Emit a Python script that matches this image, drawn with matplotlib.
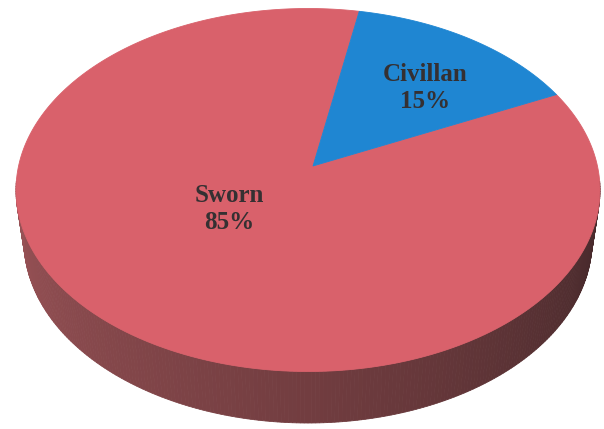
import numpy as np
import matplotlib
matplotlib.use("Agg")
import matplotlib.pyplot as plt
from matplotlib.patches import Polygon

# Workforce composition
categories = ["Sworn", "Civillan"]
shares = [85, 15]
pct_labels = ["85%", "15%"]
face_colors = ["#D9616B", "#1F86D2"]

# Geometry of the tilted disc (pixel space, y grows downward)
CX, CY, A, B = 308.0, 190.0, 292.0, 181.5
APEX = (313.0, 166.0)
# lower rim of the disc, a little narrower because it sits farther away
BCY, BA, BB = 241.0, 284.0, 182.0
START_DEG = 79.5  # where the first slice begins, counter-clockwise

SIDE_STOPS = [(0.0, (68, 40, 42)), (0.5, (114, 61, 64)), (1.0, (152, 82, 86))]

W, H = 604, 429
fig = plt.figure(figsize=(W / 100, H / 100), dpi=100)
ax = fig.add_axes([0, 0, 1, 1])
ax.set_xlim(0, W)
ax.set_ylim(H, 0)
ax.axis("off")

u = np.array([(APEX[0] - CX) / A, (APEX[1] - CY) / B])
r = np.hypot(*u)
d = u / r
phi = np.arctanh(r)
ch, sh = np.cosh(phi), np.sinh(phi)


def project(theta):
    """Map a point on the unit circle (math angle) onto the tilted disc."""
    x, y = np.cos(theta), -np.sin(theta)
    par = x * d[0] + y * d[1]
    px, py = x - par * d[0], y - par * d[1]
    par2 = ch * par + sh
    w = sh * par + ch
    X = (par2 * d[0] + px) / w
    Y = (par2 * d[1] + py) / w
    return CX + A * X, CY + B * Y


def side_color(t):
    for (t0, c0), (t1, c1) in zip(SIDE_STOPS[:-1], SIDE_STOPS[1:]):
        if t <= t1:
            f = (t - t0) / (t1 - t0)
            return tuple((c0[k] + (c1[k] - c0[k]) * f) / 255 for k in range(3))
    return tuple(c / 255 for c in SIDE_STOPS[-1][1])


# Side wall (front half of the cylinder)
N = 240
s = np.linspace(-0.05, np.pi + 0.05, N + 1)
for i in range(N):
    s0, s1 = s[i], s[i + 1]
    tx0, ty0 = CX + A * np.cos(s0), CY + B * np.sin(s0)
    tx1, ty1 = CX + A * np.cos(s1), CY + B * np.sin(s1)
    bx0, by0 = CX + BA * np.cos(s0), BCY + BB * np.sin(s0)
    bx1, by1 = CX + BA * np.cos(s1), BCY + BB * np.sin(s1)
    col = side_color(np.clip((s0 + s1) / 2 / np.pi, 0, 1))
    ax.add_patch(Polygon([(tx0, ty0), (tx1, ty1), (bx1, by1), (bx0, by0)],
                         closed=True, facecolor=col, edgecolor=col, lw=0.6))

# Top face slices
total = float(sum(shares))
angle = np.deg2rad(START_DEG)
for share, col in zip(shares, face_colors):
    span = 2 * np.pi * share / total
    th = np.linspace(angle, angle + span, 300)
    xs, ys = project(th)
    pts = [APEX] + list(zip(xs, ys))
    ax.add_patch(Polygon(pts, closed=True, facecolor=col, edgecolor=col, lw=0.6))
    angle += span

# Slice labels
label_pos = [(229, 209), (425, 88)]
for cat, pct, (lx, ly) in zip(categories, pct_labels, label_pos):
    ax.text(lx, ly, f"{cat}\n{pct}", ha="center", va="center",
            family="Liberation Serif", weight="bold", fontsize=18,
            color="#353032", linespacing=1.2)

fig.savefig("out.png", dpi=100)
